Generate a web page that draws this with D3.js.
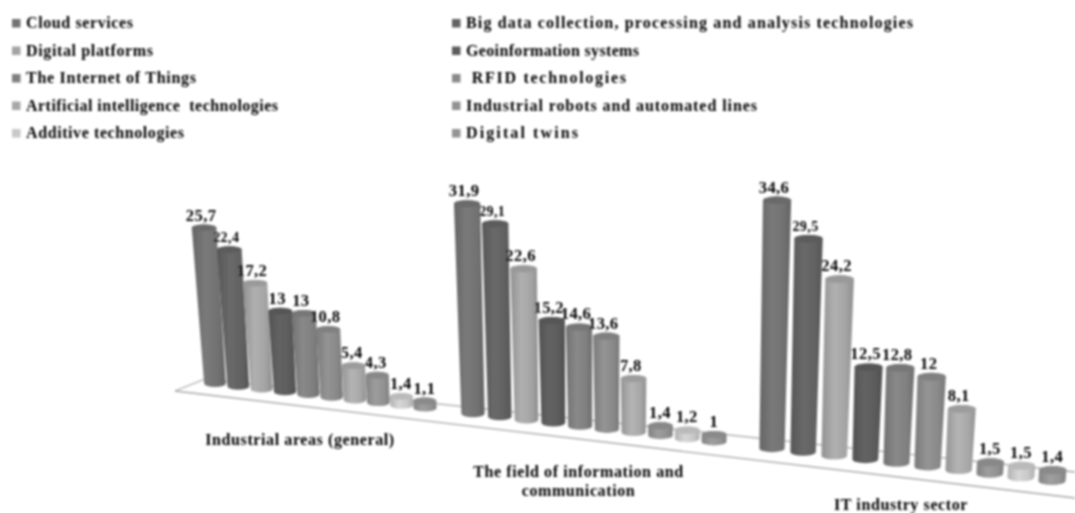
<!DOCTYPE html>
<html>
<head>
<meta charset="utf-8">
<script src="https://cdnjs.cloudflare.com/ajax/libs/d3/7.8.5/d3.min.js"></script>
<style>
    html, body { margin: 0; padding: 0; background: #fff; overflow: hidden; }
    text { font-family: "Liberation Serif", serif; font-weight: bold; fill: #000; }
</style>
</head>
<body>
<div id="chart"></div>
<script>
const series = ['Cloud services', 'Big data collection, processing and analysis technologies',
    'Digital platforms', 'Geoinformation systems', 'The Internet of Things', ' RFID technologies',
    'Artificial intelligence  technologies', 'Industrial robots and automated lines',
    'Additive technologies', 'Digital twins']
const seriesGrey = ['#727272', '#626262', '#a4a4a4', '#5c5c5c', '#808080', '#8a8a8a', '#a8a8a8', '#929292', '#c8c8c8', '#949494']

const categories = [['Industrial areas (general)'], ['The field of information and', 'communication'], ['IT industry sector']]
const industrial = [25.7, 22.4, 17.2, 13, 13, 10.8, 5.4, 4.3, 1.4, 1.1]
const infoField = [31.9, 29.1, 22.6, 15.2, 14.6, 13.6, 7.8, 1.4, 1.2, 1]
const itSector = [34.6, 29.5, 24.2, 12.5, 12.8, 12, 8.1, 1.5, 1.5, 1.4]
const groups = [industrial, infoField, itSector]

// legend text runs wider in the reference than the font does on its own
const legendFit = [107, 447, 127, 173, 170, 160, 252, 291, 158, 112]

const width = 1075, height = 513

const svg = d3.select('#chart').append('svg')
    .attr('width', width)
    .attr('height', height)
    .style('display', 'block')

const defs = svg.append('defs')
// the reference is a soft, scanned looking picture
defs.append('filter').attr('id', 'soft')
    .attr('filterUnits', 'userSpaceOnUse')
    .attr('x', 0).attr('y', 0)
    .attr('width', width).attr('height', height)
    .append('feGaussianBlur').attr('stdDeviation', 0.85)

seriesGrey.forEach((c, i) => {
    const grad = defs.append('linearGradient').attr('id', 'bar' + i)
    grad.append('stop').attr('offset', '0%').attr('stop-color', d3.color(c).darker(0.35))
    grad.append('stop').attr('offset', '40%').attr('stop-color', d3.color(c).brighter(0.2))
    grad.append('stop').attr('offset', '75%').attr('stop-color', c)
    grad.append('stop').attr('offset', '100%').attr('stop-color', d3.color(c).darker(0.4))
})

const root = svg.append('g').attr('filter', 'url(#soft)')

// the floor runs in perspective, so every group gets its own stretch of the x scale
const slots = series.length + 2
const x = d3.scaleLinear()
    .domain([0, 9, slots, slots + 9, 2 * slots, 2 * slots + 9])
    .range([215, 425, 473, 714, 772, 1052])
const floorY = d3.scaleLinear().domain([215, 1052]).range([387, 485])
const unit = d3.scaleLinear().domain([215, 772]).range([6.07, 7.17])
const radius = d3.scaleLinear().domain([215, 1052]).range([10.8, 13.5])
const lean = d3.scaleLinear().domain([215, 955]).range([-0.07, 0.05])

// floor outline
const frontY = d3.scaleLinear().domain([175, 1075]).range([391, 498])
const backY = d3.scaleLinear().domain([205, 1075]).range([379, 472])
const floorLine = d3.line()
root.append('path')
    .attr('d', floorLine([[205, backY(205)], [175, frontY(175)], [1075, frontY(1075)]]))
    .attr('fill', 'none').attr('stroke', '#a8a8a8').attr('stroke-width', 1.3)
root.append('path')
    .attr('d', floorLine([[205, backY(205)], [1075, backY(1075)]]))
    .attr('fill', 'none').attr('stroke', '#a8a8a8').attr('stroke-width', 1.3)

// flatten to one record per bar
const bars = []
groups.forEach((vals, g) => vals.forEach((v, i) => {
    const bx = x(g * slots + i)
    const rb = radius(bx)
    const ry = rb * 0.3
    const by = floorY(bx) - ry
    const h = v * unit(bx)
    const rt = rb + Math.min(h * 0.012, 1.5)
    bars.push({g, i, v, h, bx, by, rb, ry, rt, tx: bx + lean(bx) * h, ty: by - h})
}))

const bar = root.selectAll('.bar').data(bars).enter().append('g').attr('class', 'bar')

bar.append('path')
    .attr('d', d => `M${d.tx - d.rt},${d.ty} L${d.bx - d.rb},${d.by}
        A${d.rb},${d.ry} 0 0 0 ${d.bx + d.rb},${d.by}
        L${d.tx + d.rt},${d.ty}
        A${d.rt},${d.ry} 0 0 0 ${d.tx - d.rt},${d.ty} Z`)
    .attr('fill', d => `url(#bar${d.i})`)

bar.append('ellipse')
    .attr('cx', d => d.tx).attr('cy', d => d.ty)
    .attr('rx', d => d.rt).attr('ry', d => d.ry)
    .attr('fill', d => d3.color(seriesGrey[d.i]).darker(0.2))

// value labels, comma as decimal mark
root.selectAll('.value').data(bars).enter().append('text')
    .attr('class', 'value')
    .attr('x', d => d.tx - Math.min(3, d.h * 0.05))
    .attr('y', d => d.ty - d.ry - 4)
    .attr('text-anchor', 'middle')
    .style('font-size', d => d.i === 1 ? '14px' : '16.5px')
    .style('letter-spacing', '0.4px')
    .text(d => String(d.v).replace('.', ','))

// category labels under the floor
categories.forEach((lines, g) => {
    const mid = x(g * slots + 4.5)
    const cx = mid - [20, 15, 11][g]
    lines.forEach((line, j) => {
        root.append('text')
            .attr('x', cx)
            .attr('y', floorY(mid) + [46, 46, 41][g] + j * 19)
            .attr('text-anchor', 'middle')
            .style('font-size', '16px')
            .style('letter-spacing', '0.6px')
            .text(line)
    })
})

// legend, two columns filled row by row
const legendX = d3.scalePoint().domain([0, 1]).range([12, 452])
const legendY = d3.scalePoint().domain(d3.range(5)).range([23, 133])

const legend = root.selectAll('.legend').data(series).enter().append('g')
    .attr('class', 'legend')
    .attr('transform', (d, i) => `translate(${legendX(i % 2)},${legendY(Math.floor(i / 2))})`)

legend.append('rect')
    .attr('x', 0).attr('y', -4).attr('width', 8.5).attr('height', 8.5)
    .attr('fill', (d, i) => seriesGrey[i])

legend.append('text')
    .attr('x', 14).attr('y', 5)
    .attr('textLength', (d, i) => legendFit[i])
    .attr('lengthAdjust', 'spacing')
    .style('white-space', 'pre')
    .style('font-size', '16px')
    .text(d => d)
</script>
</body>
</html>
